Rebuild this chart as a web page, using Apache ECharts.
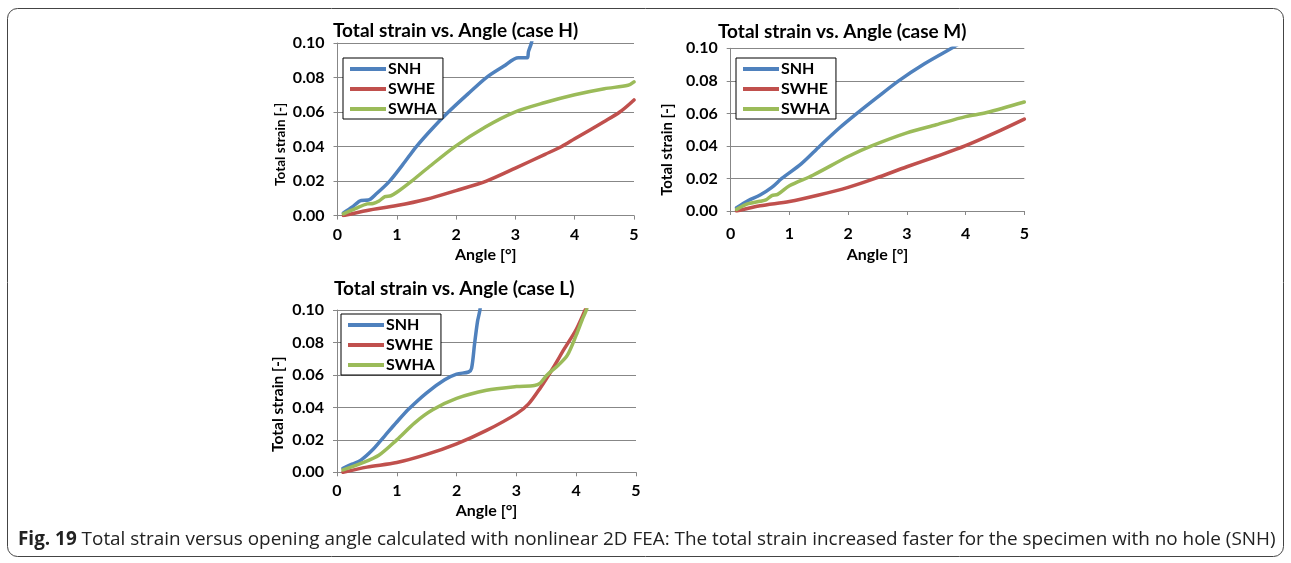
<!DOCTYPE html>
<html>
<head>
<meta charset="utf-8">
<script src="https://cdn.jsdelivr.net/npm/echarts@6/dist/echarts.min.js"></script>
<style>
html, body { margin: 0; padding: 0; background: #fff; }
#main { width: 1291px; height: 563px; }
</style>
</head>
<body>
<div id="main"></div>
<script>
var seriesNames = ['SNH', 'SWHE', 'SWHA'];
var colors = ['#4F81BD', '#C0504D', '#9BBB59'];
var xTicks = [0, 1, 2, 3, 4, 5];
var yTicks = [0, 0.02, 0.04, 0.06, 0.08, 0.10];

// case H  [angle, strain]
var snhH = [[0.1,0.0015],[0.25,0.005],[0.4,0.0088],[0.52,0.009],[0.65,0.0125],[0.88,0.02],[1.1,0.0295],[1.33,0.04],[1.6,0.0505],[1.87,0.06],[2.2,0.0705],[2.51,0.08],[2.8,0.0865],[3.05,0.0915],[3.2,0.0915],[3.22,0.095],[3.27,0.1],[3.3,0.106]];
var swheH = [[0.1,0],[0.5,0.003],[1.0,0.0058],[1.5,0.0095],[2.0,0.0145],[2.51,0.02],[3.0,0.0275],[3.5,0.0355],[3.78,0.04],[4.0,0.0445],[4.5,0.0545],[4.76,0.06],[5.0,0.067]];
var swhaH = [[0.1,0.001],[0.3,0.004],[0.5,0.0068],[0.6,0.007],[0.7,0.0085],[0.8,0.011],[0.9,0.0115],[1.0,0.0135],[1.25,0.02],[1.5,0.027],[1.98,0.04],[2.5,0.0515],[2.99,0.06],[3.5,0.0655],[4.0,0.07],[4.5,0.0735],[4.9,0.0755],[5.0,0.0775]];

// case M
var snhM = [[0.1,0.002],[0.3,0.0065],[0.5,0.0098],[0.7,0.0145],[0.87,0.02],[1.2,0.029],[1.52,0.04],[1.85,0.051],[2.15,0.06],[2.5,0.07],[2.86,0.08],[3.3,0.0905],[3.76,0.1],[3.9,0.103]];
var swheM = [[0.1,0],[0.5,0.0032],[1.0,0.0058],[1.5,0.0098],[2.0,0.0145],[2.46,0.02],[3.0,0.0272],[3.5,0.0335],[3.99,0.04],[4.5,0.048],[5.0,0.0565]];
var swhaM = [[0.1,0.001],[0.3,0.0045],[0.5,0.006],[0.6,0.0068],[0.7,0.0095],[0.8,0.0102],[1.0,0.0155],[1.4,0.022],[2.0,0.0335],[2.4,0.04],[3.0,0.048],[3.5,0.053],[4.0,0.058],[4.36,0.0605],[5.0,0.067]];

// case L
var snhL = [[0.1,0.0025],[0.25,0.005],[0.4,0.0075],[0.6,0.014],[0.8,0.0225],[1.0,0.031],[1.2,0.039],[1.5,0.049],[1.8,0.057],[2.0,0.0605],[2.2,0.0618],[2.25,0.064],[2.3,0.079],[2.35,0.093],[2.39,0.1],[2.42,0.11]];
var swheL = [[0.1,0],[0.5,0.0032],[1.0,0.006],[1.5,0.011],[2.0,0.0175],[2.5,0.0258],[3.0,0.036],[3.2,0.042],[3.4,0.052],[3.6,0.0635],[3.8,0.076],[4.0,0.088],[4.15,0.1],[4.2,0.104]];
var swhaL = [[0.1,0.0015],[0.4,0.0055],[0.7,0.0105],[1.0,0.02],[1.3,0.0305],[1.6,0.0385],[2.0,0.0455],[2.5,0.0505],[3.0,0.0528],[3.3,0.0535],[3.4,0.055],[3.5,0.0595],[3.7,0.066],[3.85,0.072],[4.0,0.0845],[4.1,0.094],[4.17,0.1],[4.22,0.107]];

var panels = [
    { title: 'Total strain vs. Angle (case H)', data: [snhH, swheH, swhaH],
      grid: { left: 337.5, top: 43, width: 296.5, height: 172.6 },
      titlePos: [333, 21], legendPos: [343, 58], yName: 13.5, yGap: 50, yShift: 30, xGap: 31, xMargin: 11 },
    { title: 'Total strain vs. Angle (case M)', data: [snhM, swheM, swhaM],
      grid: { left: 730.7, top: 48.3, width: 293.6, height: 162.7 },
      titlePos: [718, 22], legendPos: [736, 58], yName: 15, yGap: 56, yShift: 40, xGap: 36, xMargin: 15 },
    { title: 'Total strain vs. Angle (case L)', data: [snhL, swheL, swhaL],
      grid: { left: 337, top: 310, width: 299, height: 162.3 },
      titlePos: [334, 279], legendPos: [341, 314], yName: 15.5, yGap: 51, yShift: 26, xGap: 31, xMargin: 11 }
];

var font = 'Lato';
var axisGray = '#878787';

var option = {
    backgroundColor: '#fff',
    animation: false,
    title: [],
    legend: [],
    grid: [],
    xAxis: [],
    yAxis: [],
    series: [],
    graphic: [{
        type: 'rect',
        shape: { x: 7.5, y: 8.5, width: 1276, height: 548, r: 10 },
        style: { fill: null, stroke: '#444', lineWidth: 1 }
    }]
};

panels.forEach(function (p, i) {
    option.title.push({
        text: p.title,
        left: p.titlePos[0], top: p.titlePos[1], padding: 0,
        textStyle: { fontFamily: font, fontWeight: 'bold', fontSize: 19, color: '#000' }
    });
    option.grid.push(p.grid);
    option.legend.push({
        data: seriesNames,
        orient: 'vertical',
        left: p.legendPos[0], top: p.legendPos[1],
        padding: [3, 6, 2, 7],
        itemGap: 4,
        itemWidth: 36, itemHeight: 4,
        icon: 'rect',
        backgroundColor: '#fff',
        borderColor: '#000', borderWidth: 1,
        selectedMode: false,
        textStyle: { fontFamily: font, fontWeight: 'bold', fontSize: 16, color: '#000', lineHeight: 16, padding: [0, 0, 0, -3] }
    });
    option.xAxis.push({
        type: 'value', gridIndex: i,
        min: xTicks[0], max: xTicks[xTicks.length - 1], interval: 1,
        name: 'Angle [°]', nameLocation: 'middle', nameGap: p.xGap,
        nameTextStyle: { fontFamily: font, fontWeight: 'bold', fontSize: 16, color: '#000' },
        axisLine: { show: true, onZero: false, lineStyle: { color: axisGray, width: 1 } },
        axisTick: { show: true, inside: false, length: 4, lineStyle: { color: axisGray } },
        axisLabel: { fontFamily: font, fontWeight: 'bold', fontSize: 16, color: '#000', margin: p.xMargin },
        splitLine: { show: false }
    });
    option.yAxis.push({
        type: 'value', gridIndex: i,
        min: yTicks[0], max: yTicks[yTicks.length - 1], interval: 0.02,
        name: 'Total strain [-]', nameLocation: 'middle', nameGap: p.yGap,
        nameTextStyle: { fontFamily: font, fontWeight: 'bold', fontSize: p.yName, color: '#000', padding: [0, p.yShift, 0, 0] },
        axisLine: { show: true, lineStyle: { color: axisGray, width: 1 } },
        axisTick: { show: true, inside: false, length: 4, lineStyle: { color: axisGray } },
        axisLabel: { fontFamily: font, fontWeight: 'bold', fontSize: 16, color: '#000', margin: 13,
            formatter: function (v) { return v.toFixed(2); } },
        splitLine: { show: true, lineStyle: { color: axisGray, width: 1 } }
    });
    p.data.forEach(function (d, k) {
        option.series.push({
            name: seriesNames[k], type: 'line',
            xAxisIndex: i, yAxisIndex: i,
            data: d,
            showSymbol: false,
            smooth: 0.3,
            clip: true,
            color: colors[k],
            lineStyle: { width: 3.5, color: colors[k], join: 'round', cap: 'round' }
        });
    });
});

option.title.push({
    text: '{b|Fig. 19} Total strain versus opening angle calculated with nonlinear 2D FEA: The total strain increased faster for the specimen with no hole (SNH)',
    left: 18, top: 530, padding: 0,
    textStyle: {
        fontFamily: 'Open Sans', fontSize: 18.9, fontWeight: 'normal', color: '#222',
        rich: { b: { fontFamily: 'Open Sans', fontSize: 18.9, fontWeight: 'bold', color: '#222' } }
    }
});

var myChart = echarts.init(document.getElementById('main'));
myChart.setOption(option);
</script>
</body>
</html>
